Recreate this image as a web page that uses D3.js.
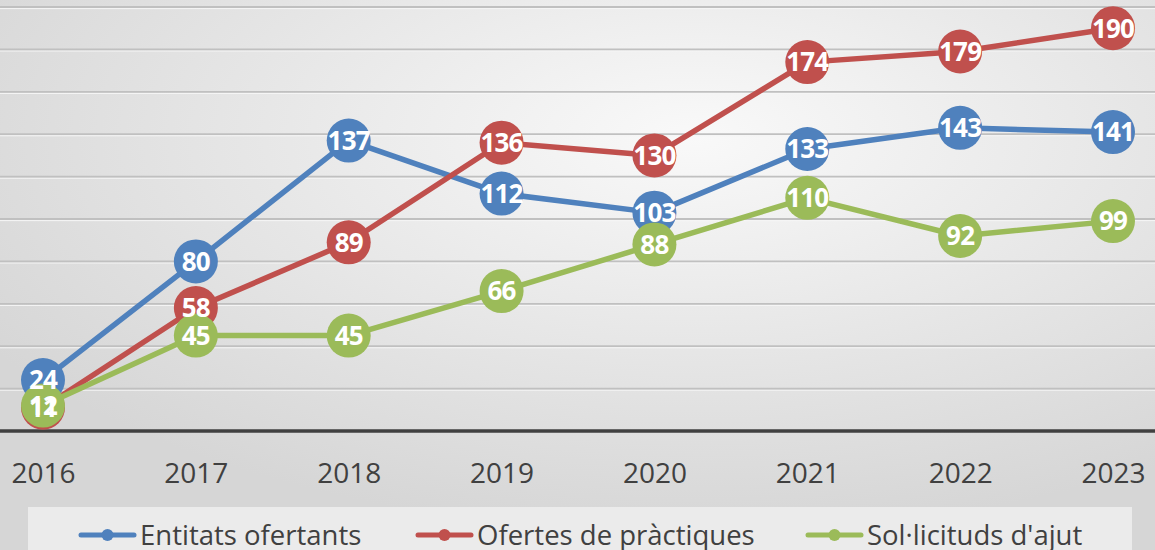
<!DOCTYPE html>
<html>
<head>
<meta charset="utf-8">
<script src="https://cdn.jsdelivr.net/npm/d3@7"></script>
<style>
  html, body { margin: 0; padding: 0; background: #e6e6e6; }
  svg { display: block; }
</style>
</head>
<body>
<svg id="chart"></svg>
<script>
(() => {

  // data
  const years = ['2016', '2017', '2018', '2019', '2020', '2021', '2022', '2023'];
  const entitats = [24, 80, 137, 112, 103, 133, 143, 141];
  const ofertes = [11, 58, 89, 136, 130, 174, 179, 190];
  const sollicituds = [12, 45, 45, 66, 88, 110, 92, 99];
  const seriesNames = ['Entitats ofertants', 'Ofertes de pràctiques', 'Sol·licituds d\'ajut'];
  const gridTicks = [20, 40, 60, 80, 100, 120, 140, 160, 180, 200];

  const colors = ['#4f81bd', '#c0504d', '#9bbb59'];
  const series = [entitats, ofertes, sollicituds].map((values, i) => ({
    name: seriesNames[i],
    color: colors[i],
    values: values
  }));

  const svgWidth  = 1155;
  const svgHeight = 550;
  const font = '"Open Sans", "DejaVu Sans", sans-serif';

  const svg = d3.select('#chart')
    .attr('width', svgWidth)
    .attr('height', svgHeight);

  // background gradient
  const defs = svg.append('defs');
  const bg = defs.append('radialGradient')
    .attr('id', 'bg')
    .attr('cx', '0.6').attr('cy', '0.25').attr('r', '0.72');
  bg.append('stop').attr('offset', '0%').attr('stop-color', '#f9f9f9');
  bg.append('stop').attr('offset', '100%').attr('stop-color', '#d6d6d6');

  svg.append('rect')
    .attr('width', svgWidth)
    .attr('height', svgHeight)
    .attr('fill', 'url(#bg)');

  const x = d3.scalePoint()
    .domain(years)
    .range([43, 1113]);

  const y = d3.scaleLinear()
    .domain([0, 200])
    .range([431, 7]);

  // gridlines
  const grid = svg.append('g');
  grid.selectAll('line.shadow')
    .data(gridTicks)
    .enter()
    .append('line')
    .attr('x1', 0).attr('x2', svgWidth)
    .attr('y1', d => y(d) + 1.6).attr('y2', d => y(d) + 1.6)
    .attr('stroke', '#f6f6f6')
    .attr('stroke-width', 1);
  grid.selectAll('line.grid')
    .data(gridTicks)
    .enter()
    .append('line')
    .attr('x1', 0).attr('x2', svgWidth)
    .attr('y1', d => y(d)).attr('y2', d => y(d))
    .attr('stroke', '#c0c0c0')
    .attr('stroke-width', 1.8);

  // x axis
  const xAxis = svg.append('g')
    .attr('transform', `translate(0, ${y(0)})`)
    .call(d3.axisBottom(x).tickSize(0).tickPadding(32));
  xAxis.select('.domain').remove();
  xAxis.selectAll('text')
    .attr('font-family', font)
    .attr('font-size', 28)
    .attr('fill', '#404040');
  svg.append('line')
    .attr('x1', 0).attr('x2', svgWidth)
    .attr('y1', y(0)).attr('y2', y(0))
    .attr('stroke', '#404040')
    .attr('stroke-width', 3.5);

  // lines
  const line = d3.line()
    .x((d, i) => x(years[i]))
    .y(d => y(d));

  svg.append('g').selectAll('path')
    .data(series)
    .enter()
    .append('path')
    .attr('d', d => line(d.values))
    .attr('fill', 'none')
    .attr('stroke', d => d.color)
    .attr('stroke-width', 5.5)
    .attr('stroke-linejoin', 'round');

  // markers (all series), then labels on top
  const points = series.flatMap(s => s.values.map((v, i) => ({ v, i, color: s.color })));

  svg.append('g').selectAll('circle')
    .data(points)
    .enter()
    .append('circle')
    .attr('cx', d => x(years[d.i]))
    .attr('cy', d => y(d.v))
    .attr('r', 22)
    .attr('fill', d => d.color);

  svg.append('g').selectAll('text')
    .data(points)
    .enter()
    .append('text')
    .attr('x', d => x(years[d.i]))
    .attr('y', d => y(d.v))
    .attr('dy', '0.36em')
    .attr('text-anchor', 'middle')
    .attr('font-family', font)
    .attr('font-weight', 'bold')
    .attr('font-size', 26)
    .attr('letter-spacing', -0.8)
    .attr('fill', '#ffffff')
    .text(d => d.v);

  // legend
  svg.append('rect')
    .attr('x', 28).attr('y', 507)
    .attr('width', 1104).attr('height', 50)
    .attr('fill', '#ebebeb');

  const legendX = [79, 416, 806];
  const legend = svg.append('g').selectAll('g')
    .data(series)
    .enter()
    .append('g')
    .attr('transform', (d, i) => `translate(${legendX[i]}, 535)`);

  legend.append('line')
    .attr('x1', 2).attr('x2', 55)
    .attr('stroke', d => d.color)
    .attr('stroke-width', 5)
    .attr('stroke-linecap', 'round');
  legend.append('circle')
    .attr('cx', 28.5)
    .attr('r', 6)
    .attr('fill', d => d.color);
  legend.append('text')
    .attr('x', 61)
    .attr('y', 10)
    .attr('font-family', font)
    .attr('font-size', 27.5)
    .attr('fill', '#404040')
    .text(d => d.name);

})();
</script>
</body>
</html>
